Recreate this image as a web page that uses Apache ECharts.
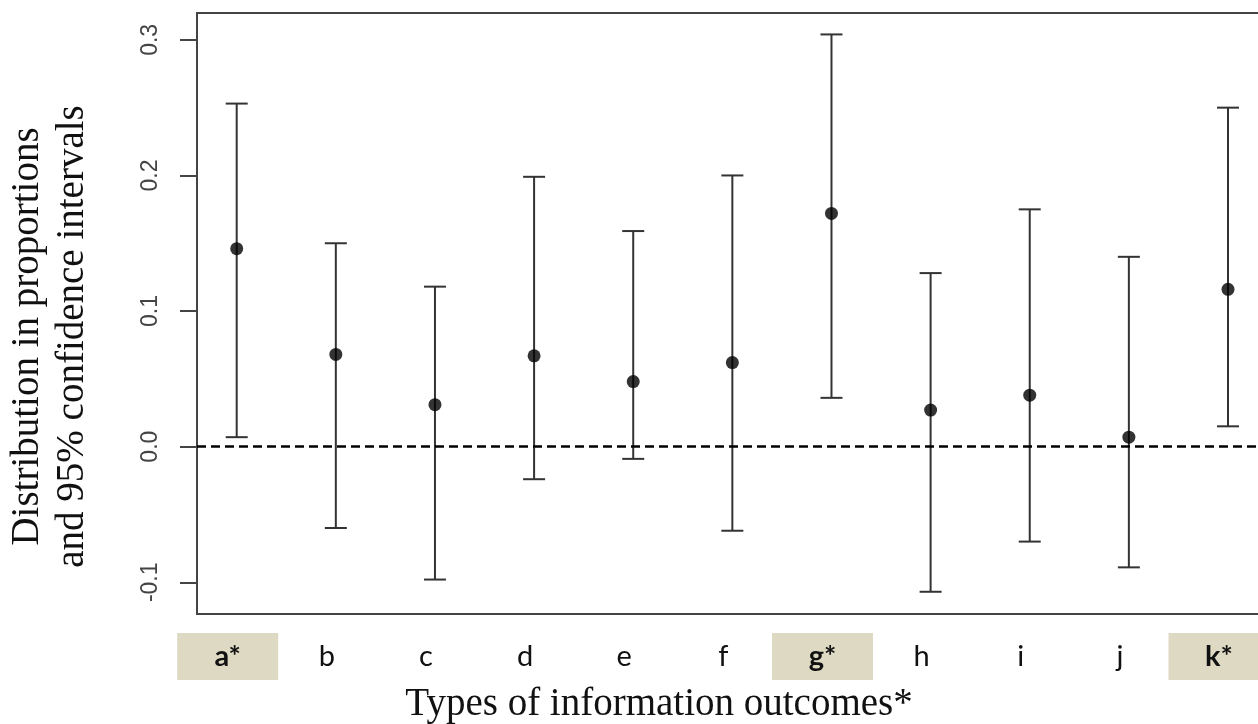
<!DOCTYPE html>
<html>
<head>
<meta charset="utf-8">
<script src="https://cdn.jsdelivr.net/npm/echarts@6/dist/echarts.min.js"></script>
<style>
html,body{margin:0;padding:0;background:#fff;}
#chart{width:1258px;height:724px;}
</style>
</head>
<body>
<div id="chart"></div>
<script>
const categories = ['a*','b','c','d','e','f','g*','h','i','j','k*'];
const highlighted = ['a*','g*','k*'];
const estimates = [0.146, 0.068, 0.031, 0.067, 0.048, 0.062, 0.172, 0.027, 0.038, 0.007, 0.116];
const lowerCI  = [0.007, -0.060, -0.098, -0.024, -0.009, -0.062, 0.036, -0.107, -0.070, -0.089, 0.015];
const upperCI  = [0.253, 0.150, 0.118, 0.199, 0.159, 0.200, 0.304, 0.128, 0.175, 0.140, 0.250];
const yTicks = [-0.1, 0.0, 0.1, 0.2, 0.3];
const yTitle = 'Distribution in proportions\nand 95% confidence intervals';
const xTitle = 'Types of information outcomes*';

const idx = categories.map((c, i) => i);
const ciData = categories.map((c, i) => [i, lowerCI[i], upperCI[i]]);
const pointData = categories.map((c, i) => [i, estimates[i]]);

const chart = echarts.init(document.getElementById('chart'), null, {renderer: 'canvas'});
chart.setOption({
  animation: false,
  backgroundColor: '#fff',
  grid: {
    left: 197, right: -2, top: 13, bottom: 110,
    containLabel: false,
    outerBoundsMode: 'none',
    show: true, borderColor: '#444', borderWidth: 2, backgroundColor: 'transparent'
  },
  xAxis: {
    type: 'value',
    min: -0.4005, max: 10.3228,
    axisLine: {show: false, onZero: false},
    axisTick: {show: false},
    splitLine: {show: false},
    axisLabel: {
      customValues: idx,
      margin: 19,
      padding: [0, 18, 0, 0],
      hideOverlap: false,
      formatter: v => {
        const c = categories[Math.round(v)];
        return highlighted.indexOf(c) >= 0 ? '{hl|' + c + '}' : '{n|' + c + '}';
      },
      rich: {
        hl: {backgroundColor: '#ddd9c3', width: 101, height: 47, align: 'center',
             fontWeight: 'bold', fontSize: 29, fontFamily: 'Lato', color: '#111'},
        n: {width: 101, height: 47, align: 'center', fontSize: 29, fontFamily: 'Lato', color: '#111'}
      }
    },
    name: xTitle,
    nameLocation: 'middle',
    nameGap: 71,
    nameTextStyle: {fontFamily: 'Liberation Serif', fontSize: 39, color: '#111', padding: [0, 139, 0, 0]}
  },
  yAxis: {
    type: 'value',
    min: -0.1234, max: 0.3198,
    axisLine: {show: false, onZero: false},
    splitLine: {show: false},
    axisTick: {show: true, length: 17, customValues: yTicks, lineStyle: {color: '#444', width: 2}},
    axisLabel: {
      customValues: yTicks,
      rotate: 90,
      margin: 35,
      fontFamily: 'Liberation Sans',
      fontSize: 23,
      color: '#444',
      formatter: v => v.toFixed(1)
    },
    name: yTitle,
    nameLocation: 'middle',
    nameRotate: 90,
    nameGap: 102,
    nameTextStyle: {fontFamily: 'Liberation Serif', fontSize: 39, lineHeight: 45, color: '#111', padding: [0, 46, 0, 0]}
  },
  series: [
    {
      type: 'custom',
      data: ciData,
      silent: true,
      renderItem: (params, api) => {
        const x = api.value(0);
        const lo = api.coord([x, api.value(1)]);
        const hi = api.coord([x, api.value(2)]);
        const cap = 11;
        const st = {stroke: '#333', lineWidth: 2};
        return {
          type: 'group',
          children: [
            {type: 'line', shape: {x1: lo[0], y1: lo[1], x2: hi[0], y2: hi[1]}, style: st},
            {type: 'line', shape: {x1: hi[0] - cap, y1: hi[1], x2: hi[0] + cap, y2: hi[1]}, style: st},
            {type: 'line', shape: {x1: lo[0] - cap, y1: lo[1], x2: lo[0] + cap, y2: lo[1]}, style: st}
          ]
        };
      }
    },
    {
      type: 'scatter',
      data: pointData,
      symbol: 'circle',
      symbolSize: 13,
      itemStyle: {color: '#000'},
      silent: true,
      z: 5,
      markLine: {
        silent: true,
        symbol: ['none', 'none'],
        label: {show: false},
        lineStyle: {type: [9, 5], color: '#000', width: 2.5},
        data: [{yAxis: 0}]
      }
    }
  ]
});
</script>
</body>
</html>
